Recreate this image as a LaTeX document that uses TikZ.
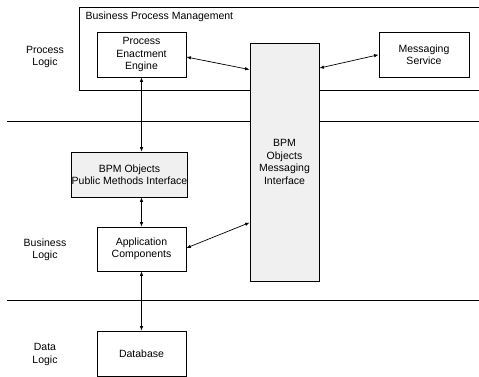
\documentclass[tikz,border=0pt]{standalone}
\usepackage{fontspec}
\setmainfont{Liberation Sans}
\usetikzlibrary{arrows.meta,calc}
\begin{document}
\begin{tikzpicture}[x=1pt,y=-1pt,
  txt/.style={font=\fontsize{10.5}{12.5}\selectfont, align=center},
  box/.style={txt, draw=black, line width=0.8pt, inner sep=0pt},
  shaded/.style={box, fill=gray!12},
  conn/.style={{Latex[length=4.5pt,width=3.5pt]}-{Latex[length=4.5pt,width=3.5pt]}, line width=0.7pt},
  sep/.style={line width=0.9pt}]
\useasboundingbox (0,0) rectangle (479,377);
% separators
\draw[sep] (7,121) -- (479,121);
\draw[sep] (7,300) -- (479,300);
% BPM container (open to the right)
\draw[line width=0.8pt] (481,7) -- (79,7) -- (79,90) -- (481,90);
\node[txt, anchor=west] (bpmlbl) at (82,17) {Business Process Management};
% layer labels
\node[txt] (plogic) at (45,57) {Process\\Logic};
\node[txt] (blogic) at (45,250) {Business\\Logic};
\node[txt] (dlogic) at (45,354.5) {Data\\Logic};
% boxes
\node[box, minimum width=89pt, minimum height=45pt] (pee) at (141.5,54.5) {Process\\Enactment\\Engine};
\node[box, minimum width=90pt, minimum height=44.5pt] (ms) at (424,54.75) {Messaging\\Service};
\node[shaded, minimum width=69pt, minimum height=238pt] (bmi) at (284.5,162) {BPM\\Objects\\Messaging\\Interface};
\node[shaded, minimum width=113pt, minimum height=45pt] (pmi) at (129.5,174.5) {BPM Objects\\Public Methods Interface};
\node[box, minimum width=89pt, minimum height=44pt] (app) at (141.5,249) {Application\\Components};
\node[box, minimum width=89pt, minimum height=45pt] (db) at (141.5,353.5) {Database};
% connectors
\draw[conn] ($(pee.east)+(0,2.5)$) -- ($(bmi.north west)+(0,27)$);
\draw[conn] (ms.west) -- ($(bmi.north east)+(0,25.5)$);
\draw[conn] ($(app.east)+(0,-1)$) -- ($(bmi.north west)+(0,180)$);
\draw[conn] (pee.south) -- (pee.south |- pmi.north);
\draw[conn] (app.north |- pmi.south) -- (app.north);
\draw[conn] (app.south) -- (db.north);
\end{tikzpicture}
\end{document}
